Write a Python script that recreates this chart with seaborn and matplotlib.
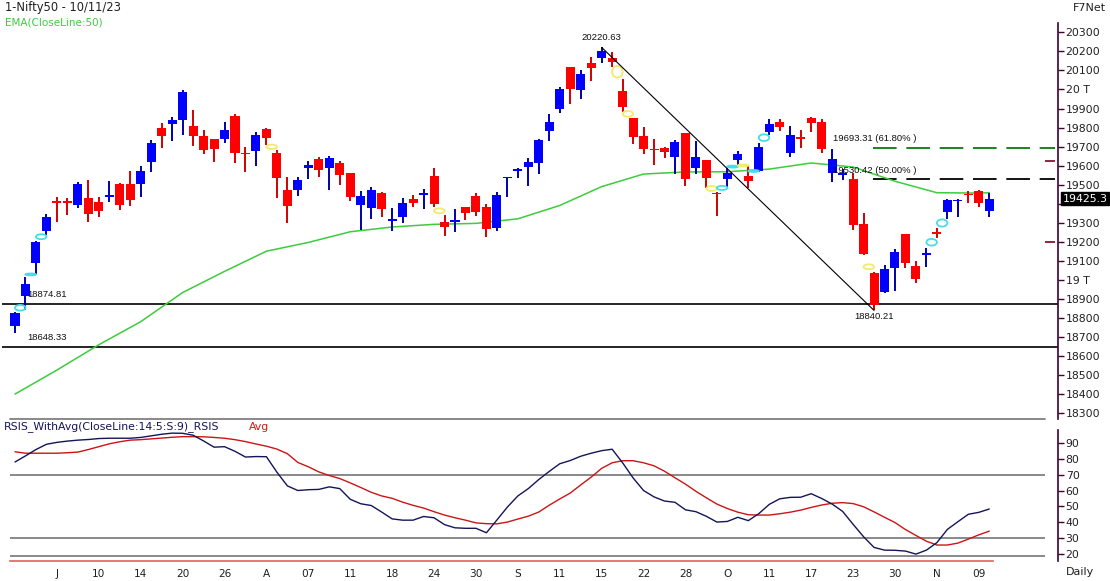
import numpy as np
import pandas as pd
import matplotlib
matplotlib.use("Agg")
import matplotlib.pyplot as plt
import seaborn as sns
from matplotlib.patches import Ellipse
from matplotlib.lines import Line2D

sns.set_style("white")
plt.rcParams['font.family'] = ['DejaVu Sans']
plt.rcParams['lines.scale_dashes'] = False

# ---------------- data ----------------
opens = [18760, 18917, 19087, 19259, 19414, 19414, 19393, 19429, 19408, 19437,
         19502, 19502, 19504, 19621, 19796, 19817, 19840, 19808, 19756, 19738,
         19740, 19862, 19668, 19679, 19794, 19668, 19472, 19472, 19589, 19635,
         19589, 19612, 19560, 19393, 19379, 19455, 19311, 19332, 19423, 19446,
         19546, 19303, 19304, 19381, 19442, 19385, 19271, 19535, 19572, 19591,
         19612, 19784, 19897, 20116, 19997, 20140, 20167, 20167, 19992, 19849,
         19756, 19687, 19694, 19647, 19770, 19589, 19630, 19458, 19530, 19630,
         19546, 19574, 19778, 19828, 19665, 19747, 19852, 19828, 19560, 19555,
         19530, 19292, 19035, 18938, 19064, 19240, 19073, 19131, 19248, 19358,
         19416, 19451, 19467, 19364]
highs = [18832, 19017, 19204, 19345, 19437, 19429, 19513, 19525, 19437, 19521,
         19507, 19572, 19598, 19735, 19826, 19857, 19997, 19892, 19787, 19738,
         19829, 19871, 19700, 19778, 19798, 19682, 19542, 19542, 19625, 19644,
         19651, 19625, 19560, 19467, 19486, 19463, 19376, 19429, 19446, 19477,
         19586, 19341, 19373, 19385, 19455, 19397, 19462, 19542, 19588, 19639,
         19738, 19870, 20011, 20119, 20102, 20169, 20220.63, 20195, 20055, 19849,
         19801, 19740, 19700, 19735, 19773, 19730, 19630, 19463, 19589, 19678,
         19596, 19717, 19843, 19843, 19808, 19787, 19857, 19843, 19686, 19581,
         19563, 19350, 19043, 19079, 19163, 19240, 19100, 19166, 19274, 19425,
         19424, 19469, 19472, 19455]
lows = [18720, 18842, 19030, 19236, 19306, 19341, 19379, 19306, 19332, 19411,
        19367, 19388, 19437, 19568, 19694, 19729, 19761, 19705, 19661, 19621,
        19721, 19612, 19568, 19598, 19708, 19429, 19301, 19442, 19531, 19539,
        19472, 19499, 19414, 19262, 19320, 19332, 19259, 19301, 19385, 19371,
        19385, 19231, 19253, 19315, 19336, 19227, 19259, 19437, 19534, 19495,
        19555, 19731, 19875, 19922, 19950, 20046, 20137, 20119, 19883, 19714,
        19661, 19603, 19642, 19556, 19495, 19556, 19481, 19337, 19486, 19606,
        19481, 19568, 19761, 19782, 19644, 19691, 19778, 19665, 19516, 19525,
        19262, 19130, 18840.21, 18933, 18944, 19061, 18983, 19070, 19219, 19318,
        19332, 19406, 19385, 19332]
closes = [18828, 18979, 19198, 19330, 19402, 19405, 19502, 19345, 19364, 19446,
          19393, 19420, 19572, 19717, 19756, 19840, 19985, 19756, 19682, 19687,
          19787, 19668, 19660, 19761, 19744, 19537, 19390, 19525, 19602, 19577,
          19640, 19551, 19437, 19441, 19472, 19372, 19320, 19402, 19406, 19455,
          19397, 19276, 19315, 19353, 19358, 19266, 19446, 19542, 19582, 19618,
          19735, 19828, 20002, 20002, 20081, 20114, 20203, 20146, 19909, 19752,
          19686, 19682, 19673, 19722, 19530, 19644, 19537, 19450, 19560, 19661,
          19519, 19699, 19819, 19805, 19761, 19744, 19822, 19686, 19635, 19560,
          19288, 19135, 18869, 19056, 19145, 19091, 19003, 19140, 19245, 19420,
          19420, 19448, 19406, 19425.35]

ema_bar = [0, 4, 8, 12, 16, 20, 24, 28, 32, 36, 40, 44, 48, 52, 56, 60, 64, 68,
           72, 76, 80, 84, 88, 92, 93]
ema_val = [18401, 18527, 18660, 18781, 18934, 19045, 19151, 19197, 19253, 19278,
           19292, 19297, 19321, 19391, 19490, 19556, 19567, 19568, 19582, 19614,
           19593, 19518, 19458, 19456, 19458]

rsi = [77.9, 81.7, 85.7, 89.0, 90.2, 91.0, 91.6, 92.0, 92.6, 92.8,
       92.8, 92.8, 93.3, 94.3, 95.3, 96.0, 95.9, 94.7, 91.1, 87.2,
       87.5, 84.6, 81.0, 81.3, 81.2, 71.5, 62.9, 60.0, 60.5, 60.7,
       62.3, 61.2, 54.5, 51.7, 50.6, 46.5, 42.2, 41.4, 41.4, 43.7,
       42.9, 38.6, 36.6, 36.3, 36.3, 33.5, 41.5, 49.6, 56.6, 61.2,
       66.9, 72.0, 76.8, 78.8, 81.5, 83.4, 85.0, 85.9, 77.4, 67.9,
       60.0, 56.0, 53.4, 52.6, 47.9, 46.7, 43.8, 40.2, 40.6, 43.2,
       41.1, 45.5, 51.3, 54.8, 55.7, 55.8, 58.0, 55.0, 51.5, 46.9,
       38.8, 31.0, 24.3, 22.6, 22.5, 22.0, 20.1, 22.6, 27.3, 35.6,
       40.4, 45.1, 46.3, 48.4]
rsi_avg = [84.3, 83.4, 83.4, 83.4, 83.4, 83.7, 84.1, 85.7, 87.5, 89.3,
           90.6, 91.6, 91.9, 92.4, 92.9, 93.4, 93.8, 93.8, 93.7, 93.3,
           92.8, 91.9, 90.7, 89.2, 87.8, 86.0, 83.1, 77.6, 74.9, 71.7,
           69.4, 67.5, 64.8, 61.9, 58.9, 56.6, 55.1, 52.7, 50.7, 49.0,
           46.7, 44.6, 42.9, 41.4, 39.7, 39.2, 39.1, 40.2, 42.1, 43.9,
           46.5, 50.8, 54.7, 58.4, 63.5, 68.4, 73.9, 77.4, 78.7, 78.7,
           77.4, 75.5, 72.1, 68.0, 64.0, 59.5, 55.4, 51.5, 48.7, 46.4,
           44.8, 44.6, 44.6, 45.4, 46.4, 47.7, 49.4, 50.9, 52.0, 52.4,
           51.8, 49.8, 46.6, 43.2, 39.9, 35.5, 31.8, 28.2, 25.8, 25.8,
           27.0, 29.5, 32.2, 34.5]

tick_bars = list(range(4, 93, 4))
tick_labels = ["J", "10", "14", "20", "26", "A", "07", "11", "18", "24", "30", "S",
               "11", "15", "22", "28", "O", "11", "17", "23", "30", "N", "09"]

price_ticks = list(range(18300, 20301, 100))
# 19400 is hidden under the last-price box in the reference
price_tick_labels = ["20 T" if v == 20000 else ("19 T" if v == 19000 else
                     ("" if v == 19400 else str(v))) for v in price_ticks]

# gap markers: after bar, price level, size, kind
gap_after = [0, 1, 2, 24, 40, 57, 58, 66, 67, 68, 69, 70, 71, 81, 87, 88]
gap_price = [18854, 19029, 19227, 19699, 19363, 20093, 19872, 19480, 19483, 19595,
             19601, 19572, 19747, 19069, 19198, 19299]
gap_size = [30, 10, 26, 23, 26, 61, 30, 26, 21, 10, 10, 10, 35, 26, 35, 38]
gap_up = [True, True, True, False, False, False, False, False, True, True,
          False, True, True, False, True, True]

swing_high_bar, swing_high = 56, 20220.63
swing_low_bar, swing_low = 82, 18840.21
support_levels = [18874.81, 18648.33]
fib_levels = [19693.31, 19530.42]
fib_labels = ["19693.31 (61.80% )", "19530.42 (50.00% )"]
right_marks = [19623, 19198]
last_close_label = "19425.3"

# ---------------- figure ----------------
W, H = 1110, 581
fig = plt.figure(figsize=(W / 100, H / 100), dpi=100)
fig.patch.set_facecolor("white")


def fx(px):
    return px / W


def fy(py):
    return 1 - py / H


XL = (-1.432, 99.56)
ax = fig.add_axes([0, fy(419), fx(1058), (419 - 23) / H])
ax.set_facecolor("white")

n = len(opens)
idx = np.arange(n)
o = np.array(opens, float)
c = np.array(closes, float)
h = np.array(highs, float)
l = np.array(lows, float)
up = c >= o

# EMA (behind candles)
sns.lineplot(x=ema_bar, y=ema_val, ax=ax, color="#3ccc3c", linewidth=1.1,
             legend=False, zorder=2)

wick_col = np.where(up, "#0000a8", "#d00000")
body_col = np.where(up, "#0000ff", "#ff0000")
ax.vlines(idx, l, h, colors=wick_col, linewidth=1.4, zorder=3)
minh = 8.0
diff = np.abs(c - o)
mid = (o + c) / 2
hgt = np.maximum(diff, minh)
bot = np.where(diff < minh, mid - minh / 2, np.minimum(o, c))
ax.bar(idx, hgt, bottom=bot, width=0.86, color=body_col, linewidth=0, zorder=4)

for g, p, s, u in zip(gap_after, gap_price, gap_size, gap_up):
    e = Ellipse((g + 0.5, p), width=1.0, height=max(s, 9), fill=False,
                edgecolor="#48dce8" if u else "#f2ea6a", linewidth=1.3, zorder=5)
    ax.add_patch(e)

# trend line and levels
ax.plot([swing_high_bar, swing_low_bar], [swing_high, swing_low], color="black",
        linewidth=0.8, zorder=6)
ax.hlines(support_levels, -1.25, XL[1], colors="black", linewidth=1.2, zorder=1)
ax.hlines(fib_levels[0], 81.9, 99.3, colors="#0a7a0a", linewidth=1.3,
          linestyles=[(0, (17, 7))], zorder=1)
ax.hlines(fib_levels[1], 81.9, 99.3, colors="black", linewidth=1.3,
          linestyles=[(0, (17, 7))], zorder=1)
ax.hlines(right_marks, 98.3, 99.3, colors="#800020", linewidth=1.2)

small = dict(fontsize=6.8, family="Liberation Sans", color="#101010", zorder=7)
ax.text(swing_high_bar, 20273, "20220.63", ha="center", va="center", **small)
ax.text(swing_low_bar, 18807, "18840.21", ha="center", va="center", **small)
ax.text(1.21, 18923, "18874.81", ha="left", va="center", **small)
ax.text(1.21, 18696, "18648.33", ha="left", va="center", **small)
ax.text(78.1, 19744, fib_labels[0], ha="left", va="center", **small)
ax.text(78.1, 19577, fib_labels[1], ha="left", va="center", **small)

ax.set_xlim(*XL)
ax.set_ylim(18270.2, 20348.8)
ax.set_xlabel("")
ax.set_ylabel("")
ax.set_xticks([])
ax.yaxis.tick_right()
ax.set_yticks(price_ticks)
ax.set_yticklabels(price_tick_labels)
ax.tick_params(axis="y", direction="out", length=4, width=1, color="#400030",
               labelsize=7.8, labelcolor="#202020", pad=1.5)
for s in ["top", "left", "bottom"]:
    ax.spines[s].set_visible(False)
ax.spines["right"].set_color("#400030")
ax.spines["right"].set_linewidth(1.2)

# ---------------- RSI panel ----------------
ax2 = fig.add_axes([0, fy(561), fx(1058), (561 - 428) / H])
ax2.set_facecolor("white")
ax2.hlines([70, 30, 18.73], -0.48, 98.32, colors="#808080", linewidth=1.3, zorder=1)
sns.lineplot(x=idx, y=rsi_avg, ax=ax2, color="#cc1414", linewidth=1.0,
             legend=False, zorder=3)
sns.lineplot(x=idx, y=rsi, ax=ax2, color="#14145a", linewidth=1.0,
             legend=False, zorder=4)
ax2.set_xlim(*XL)
ax2.set_ylim(15.78, 99.22)
ax2.set_xlabel("")
ax2.set_ylabel("")
ax2.yaxis.tick_right()
ax2.set_yticks(list(range(20, 91, 10)))
ax2.tick_params(axis="y", direction="out", length=4, width=1, color="#400030",
                labelsize=7.8, labelcolor="#202020", pad=1.5)
ax2.set_xticks(tick_bars)
ax2.set_xticklabels(tick_labels)
ax2.tick_params(axis="x", direction="out", length=4, width=1, color="#e06060",
                labelsize=7.6, labelcolor="#202020", pad=2)
ax2.spines["top"].set_visible(False)
ax2.spines["left"].set_visible(False)
ax2.spines["bottom"].set_color("#e06060")
ax2.spines["bottom"].set_linewidth(1.2)
ax2.spines["bottom"].set_bounds(-0.48, 93.36)
ax2.spines["right"].set_color("#400030")
ax2.spines["right"].set_linewidth(1.2)
ax2.spines["right"].set_bounds(15.78, 97.9)

# separator
fig.add_artist(Line2D([fx(10), fx(1045)], [fy(419), fy(419)], color="#808080",
                      linewidth=1.3))

# ---------------- texts ----------------
fig.text(fx(5), fy(8), "1-Nifty50 - 10/11/23", fontsize=8.3, color="#202020",
         ha="left", va="center")
fig.text(fx(5), fy(22.5), "EMA(CloseLine:50)", fontsize=7.5, color="#3ccc3c",
         ha="left", va="center")
fig.text(fx(1106), fy(8), "F7Net", fontsize=8, color="#202020", ha="right",
         va="center")
fig.text(fx(4), fy(426.5), "RSIS_WithAvg(CloseLine:14:5:S:9)_RSIS", fontsize=7.8,
         color="#14145a", ha="left", va="center")
fig.text(fx(249), fy(426.5), "Avg", fontsize=7.8, color="#e01010", ha="left",
         va="center")
fig.text(fx(1066), fy(572), "Daily", fontsize=8, color="#202020", ha="left",
         va="center")
fig.text(fx(1062.5), fy(198.5), last_close_label, fontsize=7.9, color="white",
         ha="left", va="center",
         bbox=dict(boxstyle="square,pad=0.12", facecolor="black", edgecolor="black"))

fig.savefig("out.png", dpi=100, facecolor="white")
